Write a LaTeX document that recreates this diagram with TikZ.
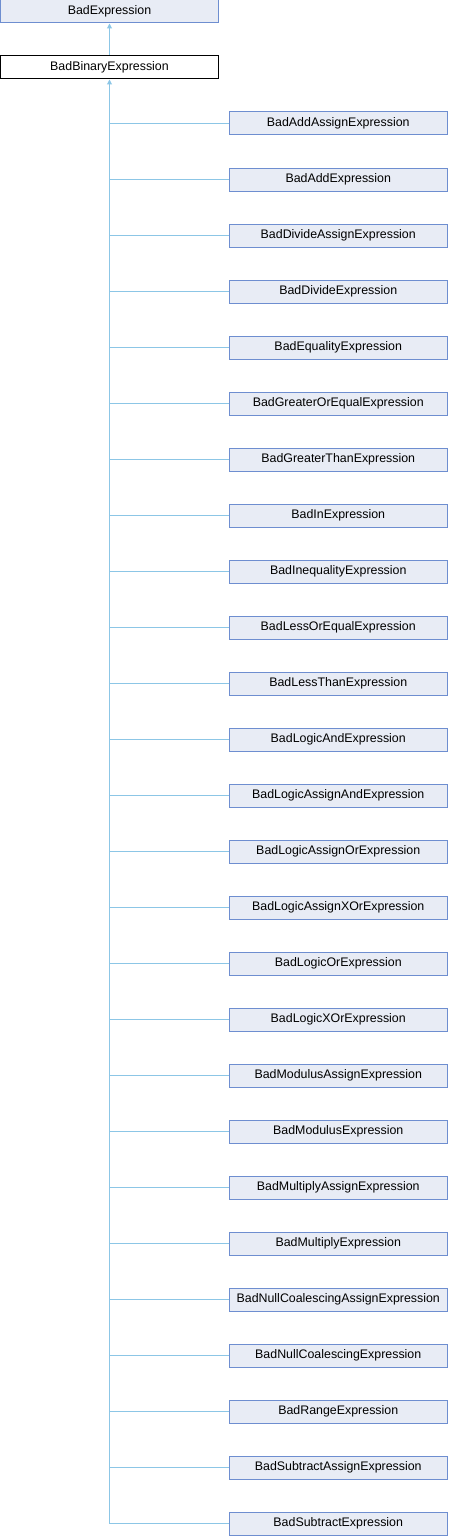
\documentclass[tikz,border=0pt]{standalone}
\usepackage{fontspec}
\setmainfont{Liberation Sans}
\usetikzlibrary{arrows.meta}
\definecolor{boxfill}{HTML}{E8ECF5}
\definecolor{boxdraw}{HTML}{6E8ED0}
\definecolor{edgecol}{HTML}{8CC6E6}
\tikzset{
  cls/.style={draw=boxdraw, fill=boxfill, line width=1pt, minimum width=218.5pt, minimum height=23pt, inner sep=0pt, font=\fontsize{12.4}{14}\selectfont},
  cur/.style={cls, draw=black, fill=white},
  edge/.style={draw=edgecol, line width=1pt},
  inh/.style={edge, {Triangle[length=5pt,width=5pt,fill=edgecol]}-}
}
\begin{document}
\begin{tikzpicture}[x=1pt,y=1pt]
\useasboundingbox (0,0) rectangle (448,-1536);
\node[cls] (base) at (109.5,-11.5) {BadExpression};
\node[cur] (bin) at (109.5,-67.5) {BadBinaryExpression};
\draw[inh] (base.south) -- (bin.north);
\foreach \name [count=\i from 0] in {BadAddAssignExpression,BadAddExpression,BadDivideAssignExpression,BadDivideExpression,BadEqualityExpression,BadGreaterOrEqualExpression,BadGreaterThanExpression,BadInExpression,BadInequalityExpression,BadLessOrEqualExpression,BadLessThanExpression,BadLogicAndExpression,BadLogicAssignAndExpression,BadLogicAssignOrExpression,BadLogicAssignXOrExpression,BadLogicOrExpression,BadLogicXOrExpression,BadModulusAssignExpression,BadModulusExpression,BadMultiplyAssignExpression,BadMultiplyExpression,BadNullCoalescingAssignExpression,BadNullCoalescingExpression,BadRangeExpression,BadSubtractAssignExpression,BadSubtractExpression}{
  \node[cls] (c\i) at (338.25,{-123.5-56*\i}) {\name};
  \draw[edge] (bin.south |- c\i.west) -- (c\i.west);
}
\draw[inh] (bin.south) -- (bin.south |- c25.west);
\end{tikzpicture}
\end{document}
